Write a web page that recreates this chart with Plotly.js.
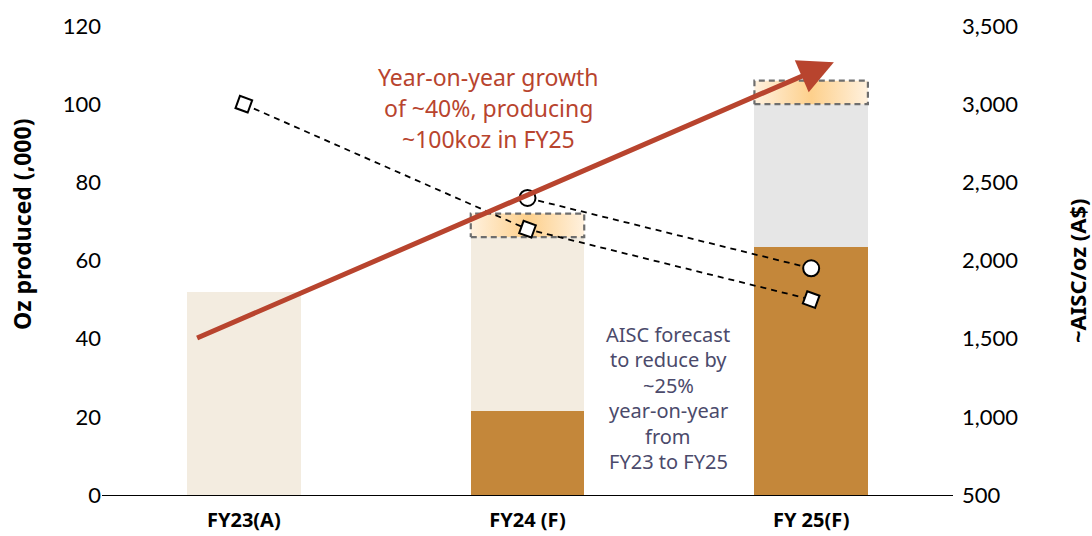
<!DOCTYPE html>
<html><head><meta charset="utf-8">
<script src="https://cdn.plot.ly/plotly-3.0.1.min.js"></script>
<style>html,body{margin:0;padding:0;background:#fff}#chart{width:1092px;height:536px}</style>
</head><body><div id="chart"></div>
<script>
const categories = ['FY23(A)', 'FY24 (F)', 'FY 25(F)'];
const darkOz   = [0, 21.5, 63.5];
const lightOz  = [52, 44.5, 0];
const greyOz   = [0, 0, 36.5];
const rangeLow  = [null, 66, 100];
const rangeHigh = [null, 72, 106];
const aiscSquare = [3000, 2200, 1750];
const aiscCircle = [null, 2400, 1950];
const growthLine = {fromX: -0.17, fromY: 40, toX: 2.08, toY: 110.7};
const growthText = ['Year-on-year growth', 'of ~40%, producing', '~100koz in FY25'];
const aiscText = ['AISC forecast', 'to reduce by', '~25%', 'year-on-year', 'from', 'FY23 to FY25'];

const idx = categories.map((c, i) => i);
const barW = 0.4;
const traces = [
  {type:'bar', x: idx, y: darkOz, width: barW, marker:{color:'#C4873A'}, hoverinfo:'skip'},
  {type:'bar', x: idx, y: lightOz, width: barW, marker:{color:'#F3ECE0'}, hoverinfo:'skip'},
  {type:'bar', x: idx, y: greyOz, width: barW, marker:{color:'#E6E6E6'}, hoverinfo:'skip'}
];
idx.forEach(i => {
  if (rangeLow[i] == null) return;
  const l = i - barW/2, r = i + barW/2;
  traces.push({type:'scatter', mode:'lines', x:[l, r, r, l, l],
    y:[rangeLow[i], rangeLow[i], rangeHigh[i], rangeHigh[i], rangeLow[i]],
    fill:'toself',
    fillgradient:{type:'horizontal', colorscale:[[0,'#FFF1DE'],[0.5,'#FDD08C'],[1,'#FFF1DE']]},
    line:{color:'#6E6E6E', width:2.2, dash:'6px,4px'}, hoverinfo:'skip'});
});
traces.push({type:'scatter', mode:'lines+markers', x: idx, y: aiscSquare, yaxis:'y2',
  line:{color:'#000', width:1.8, dash:'6px,5px'},
  marker:{symbol:'square', size:13, angle:20, color:'#fff', line:{color:'#000', width:2}}, hoverinfo:'skip'});
traces.push({type:'scatter', mode:'lines+markers', x: idx, y: aiscCircle, yaxis:'y2',
  line:{color:'#000', width:1.8, dash:'6px,5px'},
  marker:{symbol:'circle', size:16, color:'#fff', line:{color:'#000', width:2}}, hoverinfo:'skip'});

const annotations = [];
annotations.push({x: growthLine.toX, y: growthLine.toY, ax: growthLine.fromX, ay: growthLine.fromY,
  axref:'x', ayref:'y', xref:'x', yref:'y', text:'', showarrow:true,
  arrowhead:2, arrowwidth:5, arrowsize:1.4, arrowcolor:'#B8442E'});
growthText.forEach((t, k) => annotations.push({xref:'paper', yref:'paper',
  x:(488-102)/851, y:(495-(77+31*k))/469, text:t, showarrow:false,
  xanchor:'center', yanchor:'middle', font:{family:'Noto Sans', size:23, color:'#B8442E'}}));
aiscText.forEach((t, k) => annotations.push({xref:'paper', yref:'paper',
  x:(668-102)/851, y:(495-(334+25.5*k))/469, text:t, showarrow:false,
  xanchor:'center', yanchor:'middle', font:{family:'Noto Sans', size:20, color:'#4B4A6B'}}));
annotations.push({xref:'paper', yref:'paper', x:(22-102)/851, y:(495-225)/469, text:'Oz produced (,000)',
  textangle:-90, showarrow:false, xanchor:'center', yanchor:'middle',
  font:{family:'Noto Sans', size:23, color:'#000', weight:'bold'}});
annotations.push({xref:'paper', yref:'paper', x:(1077-102)/851, y:(495-271)/469, text:'~AISC/oz (A$)',
  textangle:-90, showarrow:false, xanchor:'center', yanchor:'middle',
  font:{family:'Noto Sans', size:22, color:'#000', weight:'bold'}});

const layout = {
  width:1092, height:536, margin:{l:102, r:139, t:26, b:41},
  paper_bgcolor:'#fff', plot_bgcolor:'#fff', barmode:'stack', showlegend:false,
  xaxis:{range:[-0.5, 2.5], tickvals: idx, ticktext: categories, showgrid:false, zeroline:false,
    showline:true, linecolor:'#000', linewidth:1, ticks:'', ticklabelstandoff:7,
    tickfont:{family:'Noto Sans', size:20, color:'#000', weight:'bold'}},
  yaxis:{range:[0,120], dtick:20, showgrid:false, zeroline:false, showline:false, ticks:'',
    tickfont:{family:'Lato', size:22, color:'#000'}},
  yaxis2:{range:[500,3500], dtick:500, overlaying:'y', side:'right', tickformat:',',
    showgrid:false, zeroline:false, showline:false, ticks:'', ticklabelstandoff:8,
    tickfont:{family:'Lato', size:22, color:'#000'}},
  annotations: annotations
};
Plotly.newPlot('chart', traces, layout, {displayModeBar:false, staticPlot:true});
</script></body></html>
